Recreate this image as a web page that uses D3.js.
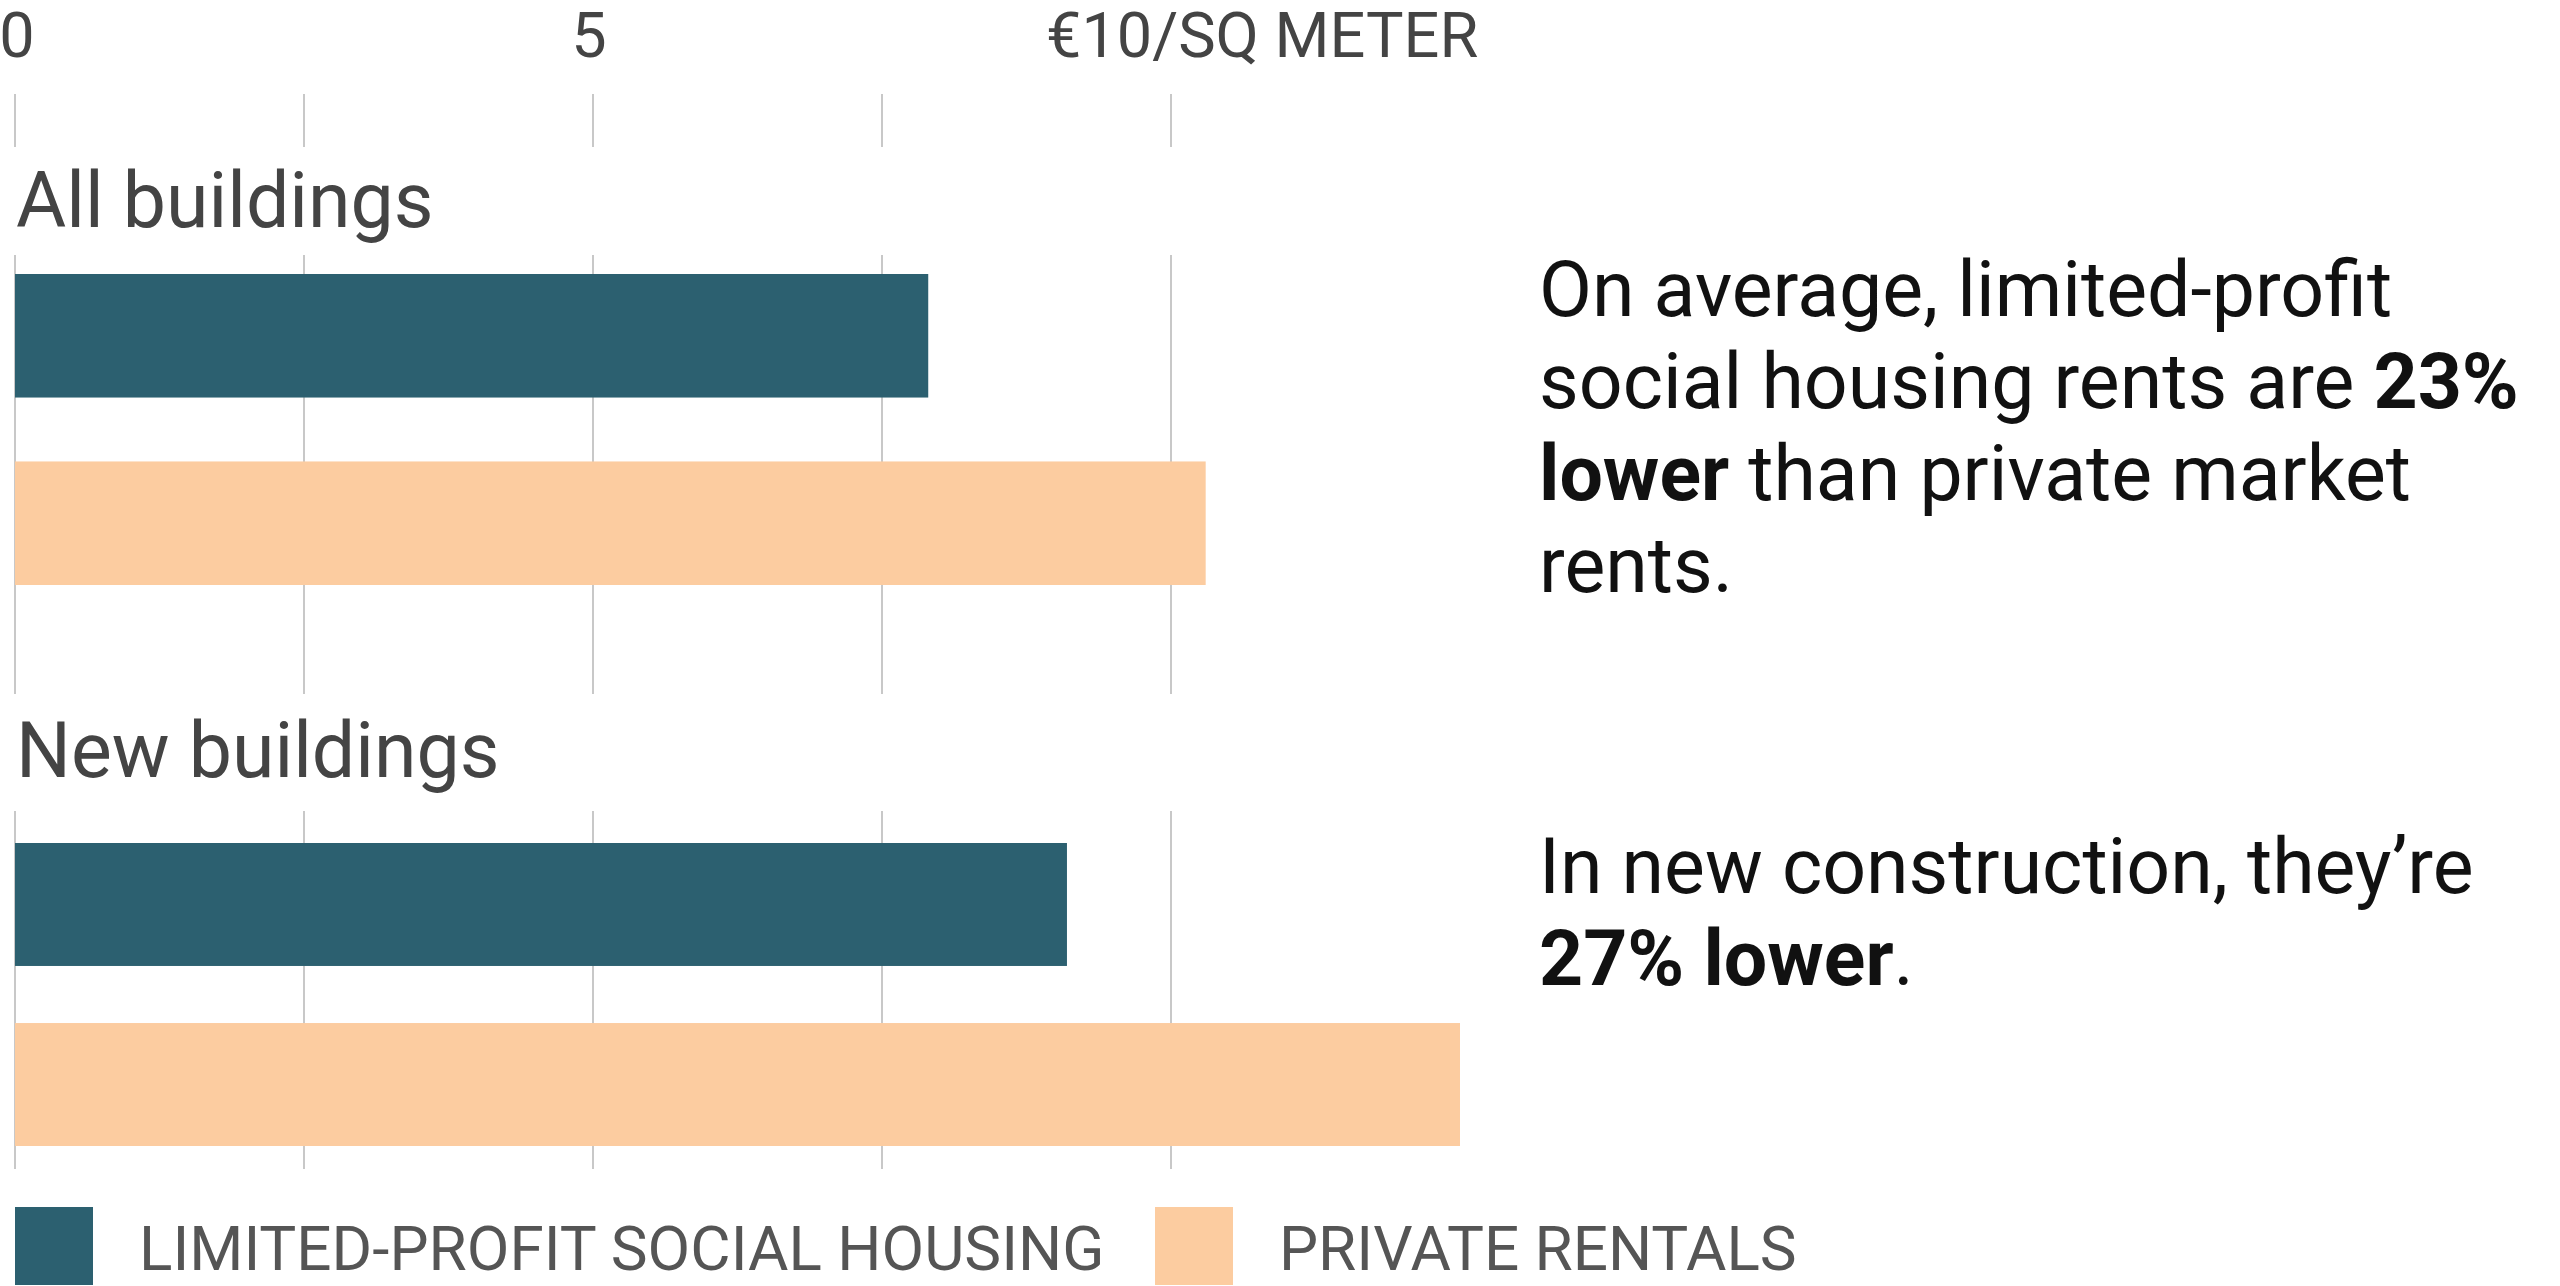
<!DOCTYPE html>
<html>
<head>
<meta charset="utf-8">
<script src="https://cdn.jsdelivr.net/npm/d3@7"></script>
<style>
  body { margin: 0; background: #fff; }
  svg { display: block; font-family: Roboto, "Noto Sans", sans-serif; }
</style>
</head>
<body>
<svg id="chart" width="2560" height="1286"></svg>
<script>
// values (EUR per square meter)
const groups = ['All buildings', 'New buildings'];
const seriesKeys = ['social', 'private'];
const seriesNames = ['LIMITED-PROFIT SOCIAL HOUSING', 'PRIVATE RENTALS'];
const socialRent = [7.9, 9.1];
const privateRent = [10.3, 12.5];
const gridValues = [0, 2.5, 5, 7.5, 10];
const tickValues = [0, 5, 10];
const tickLabels = ['0', '5', '€10/SQ METER'];

// annotation lines: [text, bold]
const notes = [
    [
        [['On average, limited-profit', false]],
        [['social housing rents are ', false], ['23%', true]],
        [['lower', true], [' than private market', false]],
        [['rents.', false]],
    ],
    [
        [['In new construction, they’re', false]],
        [['27% lower', true], ['.', false]],
    ],
];

const colors = { social: '#2c6070', private: '#fccca0' };

// vertical layout of each panel
const panels = [
    { titleY: 227, gridTop: 255, gridBottom: 694, barTop: 274, barBottom: 585, pad: 0.341, noteY: 316 },
    { titleY: 777, gridTop: 811, gridBottom: 1169, barTop: 843, barBottom: 1146, pad: 0.317, noteY: 893 },
];

const svg = d3.select('#chart');
const x = d3.scaleLinear().domain([0, 10]).range([15, 1171]);

// top axis labels
svg.append('g')
    .selectAll('text')
    .data(tickValues)
    .join('text')
    .attr('x', (d, i) => (i == 0 ? x(d) + 2 : i == tickValues.length - 1 ? x(d) - 125 : x(d) - 4))
    .attr('y', 57)
    .attr('text-anchor', (d, i) => (i == tickValues.length - 1 ? 'start' : 'middle'))
    .attr('font-size', 63)
    .attr('fill', '#444')
    .text((d, i) => tickLabels[i]);

function gridSegment(y0, y1) {
    svg.append('g')
        .selectAll('line')
        .data(gridValues)
        .join('line')
        .attr('x1', (d) => x(d))
        .attr('x2', (d) => x(d))
        .attr('y1', y0)
        .attr('y2', y1)
        .attr('stroke', '#c8c8c8')
        .attr('stroke-width', 2);
}

gridSegment(94, 147);

groups.forEach((name, gi) => {
    const p = panels[gi];
    gridSegment(p.gridTop, p.gridBottom);

    svg.append('text')
        .attr('x', 16)
        .attr('y', p.titleY)
        .attr('font-size', 77)
        .attr('fill', '#444')
        .text(name);

    const y = d3.scaleBand()
        .domain(seriesKeys)
        .range([p.barTop, p.barBottom])
        .paddingInner(p.pad);

    const rows = [
        { key: 'social', value: socialRent[gi] },
        { key: 'private', value: privateRent[gi] },
    ];
    svg.append('g')
        .selectAll('rect')
        .data(rows)
        .join('rect')
        .attr('x', x(0))
        .attr('y', (d) => y(d.key))
        .attr('width', (d) => x(d.value) - x(0))
        .attr('height', y.bandwidth())
        .attr('fill', (d) => colors[d.key]);

    // annotation on the right
    const t = svg.append('text')
        .attr('font-size', 77)
        .attr('fill', '#111');
    notes[gi].forEach((line, li) => {
        line.forEach(([txt, bold], si) => {
            const ts = t.append('tspan')
                .attr('font-weight', bold ? 700 : 400)
                .text(txt);
            if (si == 0) ts.attr('x', 1539).attr('y', p.noteY + li * 92);
        });
    });
});

// legend
const legend = svg.append('g')
    .selectAll('g')
    .data(seriesKeys)
    .join('g')
    .attr('transform', (d, i) => 'translate(' + [15, 1155][i] + ',1207)');
legend.append('rect')
    .attr('width', 78)
    .attr('height', 78)
    .attr('fill', (d) => colors[d]);
legend.append('text')
    .attr('x', 124)
    .attr('y', 63)
    .attr('font-size', 62)
    .attr('fill', '#555')
    .text((d, i) => seriesNames[i]);
</script>
</body>
</html>
